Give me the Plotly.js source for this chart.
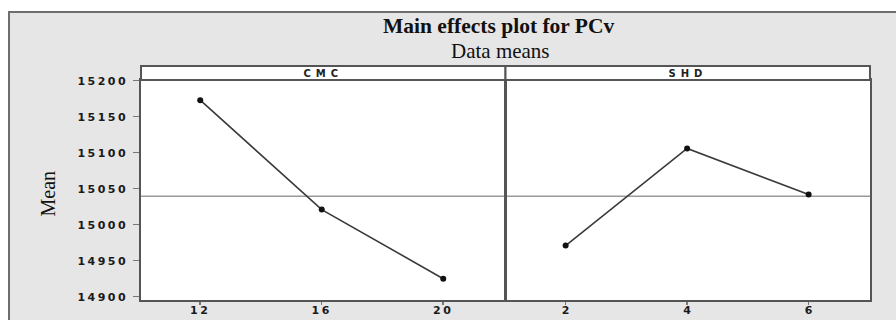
<!DOCTYPE html>
<html>
<head>
<meta charset="utf-8">
<script src="https://cdn.plot.ly/plotly-3.0.1.min.js"></script>
<style>
  html, body { margin: 0; padding: 0; background: #ffffff; }
  #wrap { position: relative; width: 896px; height: 320px; overflow: hidden; }
  #bg { position: absolute; left: 8px; top: 11px; width: 900px; height: 320px;
        background: #e6e6e6; border-left: 2px solid #6e6e6e; border-top: 2px solid #6e6e6e; }
  #chart { position: absolute; left: 0; top: 0; width: 896px; height: 320px; }
  .xtick text, .ytick text { letter-spacing: 2.5px; }
  .strip-label .annotation-text { letter-spacing: 5px; }
</style>
</head>
<body>
<div id="wrap">
  <div id="bg"></div>
  <div id="chart"></div>
</div>
<script>
// ---- data ----
const cmcLevels = [12, 16, 20];
const cmcMeans  = [15173, 15021, 14925];
const shdLevels = [2, 4, 6];
const shdMeans  = [14971, 15106, 15042];
const factorNames = ["CMC", "SHD"];
const yTickVals = [14900, 14950, 15000, 15050, 15100, 15150, 15200];

const grandMean = cmcMeans.reduce((a, b) => a + b, 0) / cmcMeans.length;

const tickFont = { family: "DejaVu Sans", size: 11, color: "#1a1a1a", weight: "bold" };
const frame = "#555555";
const stripH = 14 / 220;

const lineStyle = { color: "#3a3a3a", width: 1.6 };
const markerStyle = { color: "#111", size: 6, symbol: "circle" };

const traces = [
  { x: cmcLevels, y: cmcMeans, xaxis: "x", yaxis: "y", type: "scatter", mode: "lines+markers",
    line: lineStyle, marker: markerStyle, showlegend: false, hoverinfo: "x+y" },
  { x: shdLevels, y: shdMeans, xaxis: "x2", yaxis: "y2", type: "scatter", mode: "lines+markers",
    line: lineStyle, marker: markerStyle, showlegend: false, hoverinfo: "x+y" }
];

const yRange = [14895.4, 15201];

const commonX = {
  showline: true, mirror: true, linecolor: frame, linewidth: 1.6,
  ticks: "outside", ticklen: 3, tickwidth: 1.5, tickcolor: "#777",
  tickfont: tickFont, showgrid: false, zeroline: false, fixedrange: true,
  ticklabelstandoff: -4
};
const commonY = {
  range: yRange, showline: true, mirror: true, linecolor: frame, linewidth: 1.6,
  showgrid: false, zeroline: false, fixedrange: true
};

const layout = {
  width: 896, height: 320,
  margin: { l: 141, r: 26, t: 80, b: 20 },
  paper_bgcolor: "rgba(0,0,0,0)",
  plot_bgcolor: "#ffffff",
  showlegend: false,
  xaxis: Object.assign({}, commonX, { domain: [0, 0.5], range: [10.05, 22.05], tickvals: cmcLevels, anchor: "y" }),
  xaxis2: Object.assign({}, commonX, { domain: [0.5, 1], range: [1.01, 7.01], tickvals: shdLevels, anchor: "y2" }),
  yaxis: Object.assign({}, commonY, {
    anchor: "x", tickvals: yTickVals, ticktext: yTickVals.map(String),
    ticks: "outside", ticklen: 6, tickwidth: 1.5, tickcolor: "#777",
    tickfont: tickFont, ticklabelstandoff: 3
  }),
  yaxis2: Object.assign({}, commonY, { anchor: "x2", showticklabels: false, ticks: "", matches: "y" }),
  shapes: [
    { type: "line", xref: "paper", yref: "y", x0: 0, x1: 1, y0: grandMean, y1: grandMean,
      line: { color: "#9a9a9a", width: 1.5 }, layer: "below" },
    { type: "rect", xref: "x domain", yref: "paper", x0: 0, x1: 1, y0: 1, y1: 1 + stripH,
      fillcolor: "#ffffff", line: { color: frame, width: 2 } },
    { type: "rect", xref: "x2 domain", yref: "paper", x0: 0, x1: 1, y0: 1, y1: 1 + stripH,
      fillcolor: "#ffffff", line: { color: frame, width: 2 } }
  ],
  annotations: [
    { text: "<b>Main effects plot for PCv</b>", xref: "paper", yref: "paper",
      x: (499 - 141) / 729, y: (300 - 26) / 220, xanchor: "center", yanchor: "middle", showarrow: false,
      font: { family: "Liberation Serif", size: 21.5, color: "#111" } },
    { text: "Data means", xref: "paper", yref: "paper",
      x: (500 - 141) / 729, y: (300 - 51) / 220, xanchor: "center", yanchor: "middle", showarrow: false,
      font: { family: "Liberation Serif", size: 21, color: "#111" } },
    { text: "Mean", xref: "paper", yref: "paper",
      x: (47.5 - 141) / 729, y: (300 - 194) / 220, xanchor: "center", yanchor: "middle", showarrow: false,
      textangle: -90, font: { family: "Liberation Serif", size: 20, color: "#111" } },
    { text: "<b>" + factorNames[0] + "</b>", xref: "x domain", yref: "paper", x: 0.5, y: 1 + stripH / 2,
      xanchor: "center", yanchor: "middle", showarrow: false,
      font: { family: "DejaVu Sans", size: 10, color: "#222" } },
    { text: "<b>" + factorNames[1] + "</b>", xref: "x2 domain", yref: "paper", x: 0.5, y: 1 + stripH / 2,
      xanchor: "center", yanchor: "middle", showarrow: false,
      font: { family: "DejaVu Sans", size: 10, color: "#222" } }
  ]
};

Plotly.newPlot("chart", traces, layout, { staticPlot: true, displayModeBar: false }).then(function (gd) {
  document.querySelectorAll(".annotation").forEach(function (a, i) {
    if (i >= 3) a.classList.add("strip-label");
  });
});
</script>
</body>
</html>
